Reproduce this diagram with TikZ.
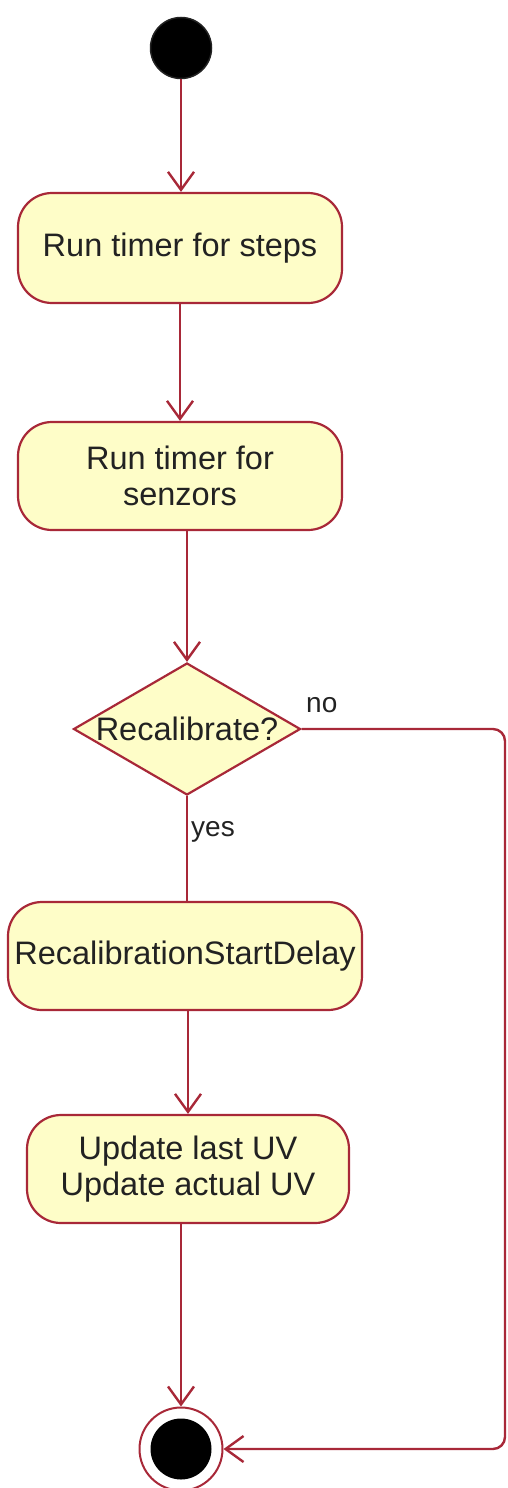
\documentclass[tikz,border=0pt]{standalone}
\usepackage{fontspec}
\setmainfont{Liberation Sans}
\usetikzlibrary{arrows.meta,shapes.geometric}
\definecolor{actfill}{HTML}{FEFDC8}
\definecolor{actline}{HTML}{A82838}
\definecolor{txt}{HTML}{222222}
\tikzset{
  actbox/.style={draw=actline, fill=actfill, line width=2.2pt, rounded corners=34pt,
    inner sep=0pt, align=center, text=txt, font=\fontsize{32.5}{36}\selectfont},
  decide/.style={draw=actline, fill=actfill, line width=2.2pt, diamond, inner sep=0pt,
    minimum width=227pt, minimum height=132pt, text=txt, font=\fontsize{32.5}{36}\selectfont},
  flow/.style={draw=actline, line width=2.4pt, -{Straight Barb[length=18pt,width=26pt]}},
  plainflow/.style={draw=actline, line width=2.4pt},
  lbl/.style={text=txt, font=\fontsize{28}{33}\selectfont, inner sep=0pt}
}
\begin{document}
\begin{tikzpicture}[x=1pt,y=-1pt]
\useasboundingbox (0,0) rectangle (507,1488);
% start
\node[circle, fill=black, draw=txt, line width=1.5pt, minimum size=61pt, inner sep=0pt] (start) at (181,48) {};
% activities
\node[actbox, minimum width=324pt, minimum height=110pt] (b1) at (180,248) {Run timer for steps};
\node[actbox, minimum width=324pt, minimum height=108pt] (b2) at (180,476) {Run timer for\\senzors};
\node[decide] (dia) at (187,729) {\makebox[0pt]{Recalibrate?}};
\node[actbox, minimum width=354pt, minimum height=108pt] (b3) at (185,956) {RecalibrationStartDelay};
\node[actbox, minimum width=322pt, minimum height=108pt] (b4) at (188,1169) {Update last UV\\Update actual UV};
% end
\node[circle, draw=actline, line width=2pt, fill=white, minimum size=83pt, inner sep=0pt] (end) at (181,1449) {};
\node[circle, fill=black, minimum size=61pt, inner sep=0pt] (endin) at (end.center) {};
\coordinate (cr1) at (505,729);
\coordinate (cr2) at (505,1449);
% connectors
\draw[flow] (start) -- (start |- b1.north);
\draw[flow] (b1) -- (b2);
\draw[flow] (dia.north |- b2.south) -- (dia.north);
\draw[plainflow] (dia.south) -- (dia.south |- b3.north);
\draw[flow] (b4.north |- b3.south) -- (b4.north);
\draw[flow] (end.north |- b4.south) -- (end.north);
\draw[flow, rounded corners=12pt] (dia.east) -- (cr1) -- (cr2) -- (end.east);
% labels
\node[lbl, anchor=west] (no) at (306,705) {no};
\node[lbl, anchor=west] (yes) at (191,832) {yes};
\end{tikzpicture}
\end{document}
